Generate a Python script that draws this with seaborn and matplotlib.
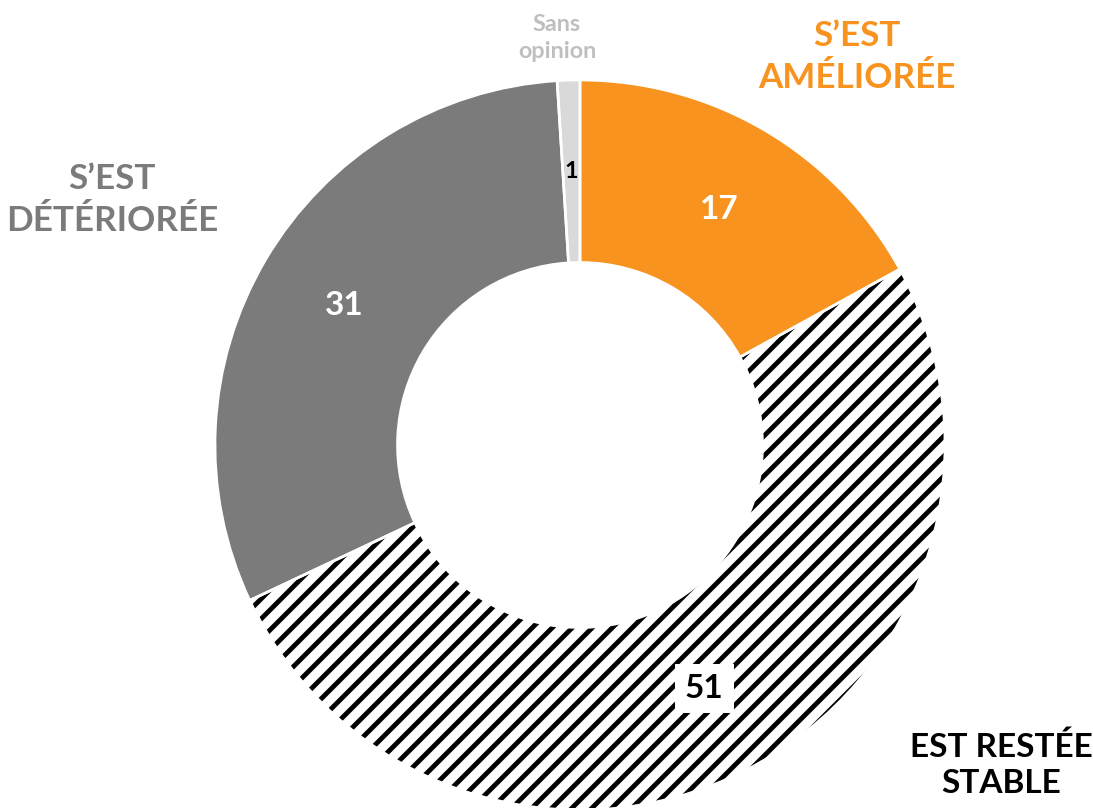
import matplotlib
matplotlib.use("Agg")
import matplotlib.pyplot as plt
import seaborn as sns
import numpy as np

# data (clockwise from 12 o'clock)
categories = ["S’EST\nAMÉLIORÉE", "EST RESTÉE\nSTABLE", "S’EST\nDÉTÉRIORÉE", "Sans\nopinion"]
values = [17, 51, 31, 1]
colors = ["#F7931E", "white", "#7B7B7C", "#D9D9D9"]
label_colors = ["#F7931E", "black", "#7B7B7C", "#BFBFBF"]
value_colors = ["white", "black", "white", "black"]

sns.set_theme(style="white")
plt.rcParams['font.family'] = ['Lato', 'DejaVu Sans']
plt.rcParams['hatch.linewidth'] = 2.9

DPI = 120
W, H = 1093, 808
CX, CY, R = 580, 445, 365  # pixel centre and radius of the donut

fig = plt.figure(figsize=(W / DPI, H / DPI), dpi=DPI)
ax = fig.add_axes([0, 0, 1, 1])
ax.axis("off")

def px(x, y):
    return (x - CX) / R, (CY - y) / R

# filled wedges (no outline), hatch on the "stable" one
wedges, _ = ax.pie(values, colors=colors, startangle=90, counterclock=False,
                   radius=1, wedgeprops=dict(width=0.5, linewidth=0))
wedges[1].set_hatch("//")
wedges[1].set_edgecolor("black")
wedges[1].set_linewidth(0)

# white separators on top
ax.pie(values, colors=["none"] * 4, startangle=90, counterclock=False,
       radius=1, wedgeprops=dict(width=0.5, linewidth=1.6, edgecolor="white", fill=False))
ax.set_xlim(-CX / R, (W - CX) / R)
ax.set_ylim(-(H - CY) / R, CY / R)
ax.set_aspect("auto")

# value labels at the middle of each wedge
sizes = [20, 20, 20, 14]
cum = np.cumsum([0] + values)
for i, w in enumerate(wedges):
    mid = np.deg2rad(90 - 360 * (cum[i] + values[i] / 2) / sum(values))
    x, y = 0.75 * np.cos(mid), 0.75 * np.sin(mid)
    bbox = dict(facecolor="white", edgecolor="none", pad=6) if i == 1 else None
    ax.text(x, y, str(values[i]), ha="center", va="center", fontsize=sizes[i],
            fontweight="bold", color=value_colors[i], bbox=bbox)

# category labels
label_pos = [(857, 57), (1001, 765), (112, 200), (557, 38)]
label_sizes = [21, 20, 21, 14]
label_spacing = [1.38, 1.3, 1.38, 1.4]
for name, (lx, ly), c, s, ls in zip(categories, label_pos, label_colors, label_sizes, label_spacing):
    x, y = px(lx, ly)
    ax.text(x, y, name, ha="center", va="center", fontsize=s, fontweight="bold",
            color=c, linespacing=ls)

fig.savefig("out.png", dpi=DPI, facecolor="white")
